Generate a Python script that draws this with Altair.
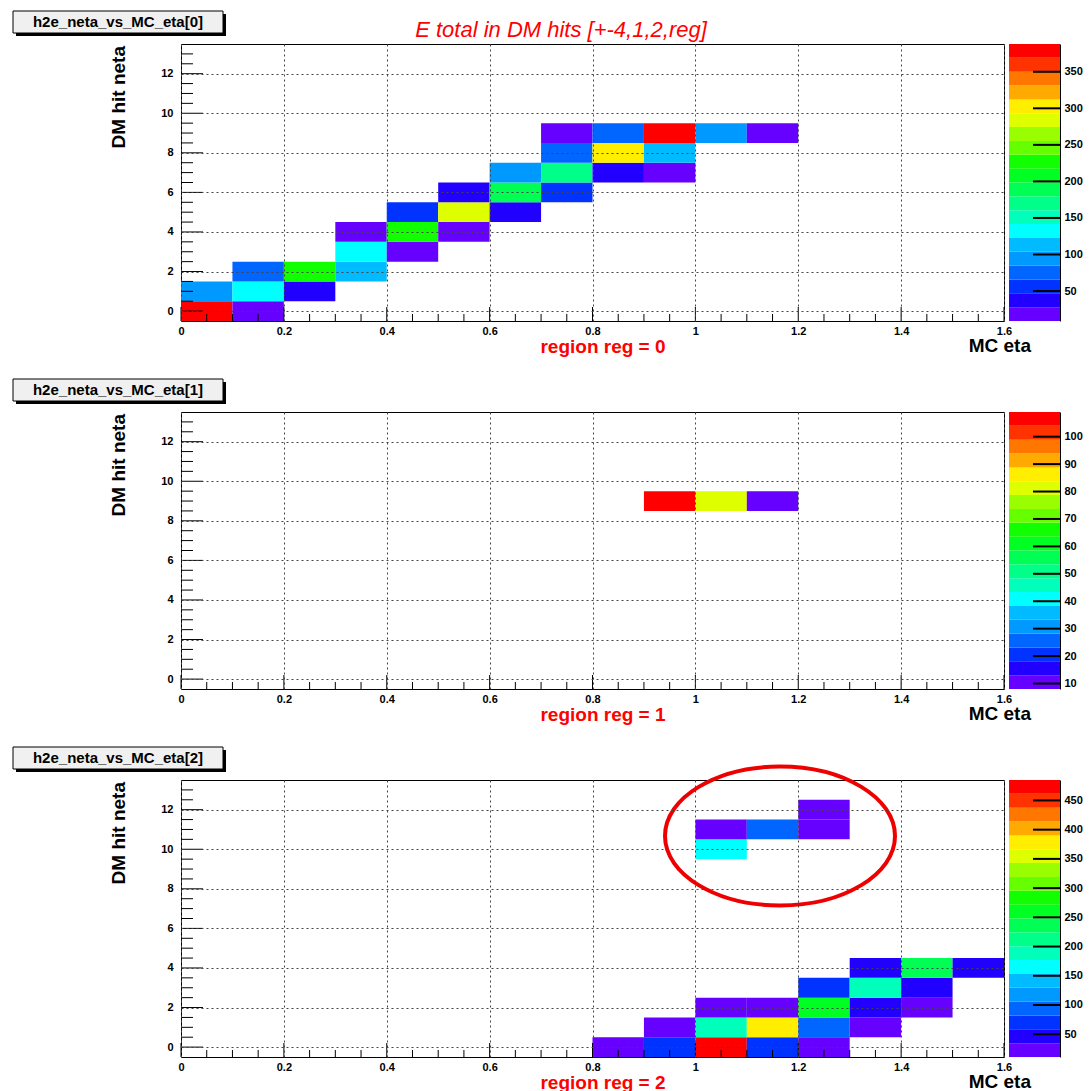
import altair as alt
import pandas as pd

FONT = "Liberation Sans"

# ROOT-like 20-level rainbow palette (bottom -> top of colour bar)
PALETTE = ["#6600ff", "#2200ff", "#0033ff", "#0066ff", "#0099ff", "#00bbff",
           "#00ffff", "#00ffbb", "#00ff88", "#00ff55", "#00ff22", "#11ff00",
           "#66ff00", "#99ff00", "#ddff00", "#ffee00", "#ffaa00", "#ff7700",
           "#ff3300", "#ff0000"]

X_MAJOR = [0, 0.2, 0.4, 0.6, 0.8, 1.0, 1.2, 1.4, 1.6]
X_MINOR = [0.05, 0.1, 0.15, 0.25, 0.3, 0.35, 0.45, 0.5, 0.55, 0.65, 0.7, 0.75,
           0.85, 0.9, 0.95, 1.05, 1.1, 1.15, 1.25, 1.3, 1.35, 1.45, 1.5, 1.55]
Y_MAJOR = [0, 2, 4, 6, 8, 10, 12]
Y_MINOR = [0.5, 1, 1.5, 2.5, 3, 3.5, 4.5, 5, 5.5, 6.5, 7, 7.5, 8.5, 9, 9.5,
           10.5, 11, 11.5, 12.5, 13]

# region reg = 0  (low edge of MC eta bin, DM hit neta, energy)
eta0 = [0.0, 0.1,
        0.0, 0.1, 0.2,
        0.1, 0.2, 0.3,
        0.3, 0.4,
        0.3, 0.4, 0.5,
        0.4, 0.5, 0.6,
        0.5, 0.6, 0.7,
        0.6, 0.7, 0.8, 0.9,
        0.7, 0.8, 0.9,
        0.7, 0.8, 0.9, 1.0, 1.1]
neta0 = [0, 0,
         1, 1, 1,
         2, 2, 2,
         3, 3,
         4, 4, 4,
         5, 5, 5,
         6, 6, 6,
         7, 7, 7, 7,
         8, 8, 8,
         9, 9, 9, 9, 9]
val0 = [381, 18,
        95, 132, 38,
        70, 225, 112,
        130, 18,
        18, 222, 18,
        56, 285, 38,
        38, 190, 56,
        95, 170, 38, 18,
        72, 304, 112,
        18, 66, 388, 95, 18]
z0 = (9, 388)
zticks0 = [50, 100, 150, 200, 250, 300, 350]

# region reg = 1
eta1 = [0.9, 1.0, 1.1]
neta1 = [9, 9, 9]
val1 = [109, 81, 8]
z1 = (8, 109)
zticks1 = [10, 20, 30, 40, 50, 60, 70, 80, 90, 100]

# region reg = 2
eta2 = [0.8, 0.9, 1.0, 1.1, 1.2,
        0.9, 1.0, 1.1, 1.2, 1.3,
        1.0, 1.1, 1.2, 1.3, 1.4,
        1.2, 1.3, 1.4,
        1.3, 1.4, 1.5,
        1.0,
        1.0, 1.1, 1.2,
        1.2]
neta2 = [0, 0, 0, 0, 0,
         1, 1, 1, 1, 1,
         2, 2, 2, 2, 2,
         3, 3, 3,
         4, 4, 4,
         10,
         11, 11, 11,
         12]
val2 = [20, 70, 485, 70, 22,
        22, 188, 378, 94, 22,
        22, 22, 265, 46, 22,
        70, 188, 46,
        46, 236, 46,
        165,
        22, 85, 22,
        22]
z2 = (11, 485)
zticks2 = [50, 100, 150, 200, 250, 300, 350, 400, 450]

W, H = 823, 277
XS = alt.Scale(domain=[0, 1.6], nice=False, zero=False)
YS = alt.Scale(domain=[-0.5, 13.5], nice=False, zero=False)
ONE = pd.DataFrame({"a": [0]})
ELLIPSE = "M -1 0 A 1 0.604 0 1 1 1 0 A 1 0.604 0 1 1 -1 0 Z"

XAX = alt.Axis(values=X_MAJOR, format="~g", title=None, grid=True, gridDash=[2, 3],
               gridColor="#444444", gridWidth=1, ticks=False, domain=False,
               labelFont=FONT, labelFontSize=11, labelFontWeight="bold",
               labelColor="black", labelPadding=4, labelFlush=False, zindex=1)
YAX = alt.Axis(values=Y_MAJOR, title=None, grid=True, gridDash=[2, 3],
               gridColor="#444444", gridWidth=1, ticks=False, domain=False,
               labelFont=FONT, labelFontSize=11, labelFontWeight="bold",
               labelColor="black", labelPadding=8, labelFlush=False, zindex=1)


def make_panel(i, eta, neta, val, z, zticks, main_title=None, ellipse=False):
    zmin, zmax = z
    df = pd.DataFrame({"eta": eta, "neta": neta, "val": val})
    cells = alt.Chart(df).transform_calculate(
        eta2="datum.eta + 0.1", lo="datum.neta - 0.5", hi="datum.neta + 0.5"
    ).mark_rect().encode(
        x=alt.X("eta:Q", scale=XS, axis=XAX),
        x2="eta2:Q",
        y=alt.Y("lo:Q", scale=YS, axis=YAX),
        y2="hi:Q",
        color=alt.Color("val:Q", scale=alt.Scale(
            type="quantize", domain=[zmin, zmax], range=PALETTE, nice=False),
            legend=None),
    )
    yt_major = alt.Chart(pd.DataFrame({"v": Y_MAJOR})).mark_rule(
        color="black", strokeWidth=1).encode(
        y=alt.Y("v:Q", scale=YS, axis=YAX), x=alt.value(0), x2=alt.value(22))
    yt_minor = alt.Chart(pd.DataFrame({"v": Y_MINOR})).mark_rule(
        color="black", strokeWidth=1).encode(
        y=alt.Y("v:Q", scale=YS, axis=YAX), x=alt.value(0), x2=alt.value(12))
    xt_major = alt.Chart(pd.DataFrame({"v": X_MAJOR})).mark_rule(
        color="black", strokeWidth=1).encode(
        x=alt.X("v:Q", scale=XS, axis=XAX), y=alt.value(H), y2=alt.value(H - 14))
    xt_minor = alt.Chart(pd.DataFrame({"v": X_MINOR})).mark_rule(
        color="black", strokeWidth=1).encode(
        x=alt.X("v:Q", scale=XS, axis=XAX), y=alt.value(H), y2=alt.value(H - 7))
    heat = alt.layer(cells, yt_major, yt_minor, xt_major, xt_minor)

    n = len(PALETTE)
    step = (zmax - zmin) / n
    cbdf = pd.DataFrame({
        "lo": [zmin + k * step for k in range(n)],
        "hi": [zmin + (k + 1) * step for k in range(n)],
        "c": PALETTE,
    })
    CBAX = alt.Axis(orient="right", offset=56, values=zticks, title=None,
                    ticks=False, grid=False, domain=True,
                    domainColor="black", domainWidth=1,
                    labelFont=FONT, labelFontSize=11,
                    labelFontWeight="bold", labelColor="black",
                    labelPadding=4, labelFlush=False, zindex=1)
    CBS = alt.Scale(domain=[zmin, zmax], nice=False, zero=False)
    cb_rect = alt.Chart(cbdf).mark_rect().encode(
        x=alt.value(W + 5), x2=alt.value(W + 56),
        y=alt.Y("lo:Q", scale=CBS, axis=CBAX),
        y2="hi:Q",
        color=alt.Color("c:N", scale=None),
    )
    cb_ticks = alt.Chart(pd.DataFrame({"v": zticks})).mark_rule(
        color="black", strokeWidth=2).encode(
        y=alt.Y("v:Q", scale=CBS, axis=CBAX), x=alt.value(W + 29), x2=alt.value(W + 56))
    cb = alt.layer(cb_rect, cb_ticks)

    shadow = alt.Chart(ONE).mark_rect(color="black").encode(
        x=alt.value(-165), x2=alt.value(45), y=alt.value(-30), y2=alt.value(-8))
    box = alt.Chart(ONE).mark_rect(fill="#f0f0f0", stroke="black", strokeWidth=1).encode(
        x=alt.value(-168), x2=alt.value(42), y=alt.value(-33), y2=alt.value(-11))
    box_text = alt.Chart(ONE).mark_text(
        text=f"h2e_neta_vs_MC_eta[{i}]", font=FONT, fontSize=15, fontWeight="bold",
        color="black", align="center", baseline="middle").encode(
        x=alt.value(-63), y=alt.value(-22))
    reg_text = alt.Chart(ONE).mark_text(
        text=f"region reg = {i}", font=FONT, fontSize=19, fontWeight="bold",
        color="#ff0000", align="center", baseline="middle").encode(
        x=alt.value(422), y=alt.value(H + 26))
    xtitle = alt.Chart(ONE).mark_text(
        text="MC eta", font=FONT, fontSize=19, fontWeight="bold",
        color="black", align="right", baseline="top").encode(
        x=alt.value(850), y=alt.value(H + 16))
    ytitle = alt.Chart(ONE).mark_text(
        text="DM hit neta", font=FONT, fontSize=19, fontWeight="bold",
        color="black", align="right", baseline="middle", angle=270).encode(
        x=alt.value(-62), y=alt.value(2))

    layers = [heat, cb, shadow, box, box_text, reg_text, xtitle, ytitle]
    if main_title:
        layers.append(alt.Chart(ONE).mark_text(
            text=main_title, font=FONT, fontSize=22, fontStyle="italic",
            color="#ff0000", align="center", baseline="middle").encode(
            x=alt.value(380), y=alt.value(-14)))
    if ellipse:
        layers.append(alt.Chart(ONE).mark_point(
            shape=ELLIPSE, size=52900, filled=False, stroke="#ee0000",
            strokeWidth=4, opacity=1).encode(x=alt.value(599), y=alt.value(56)))
    return alt.layer(*layers).resolve_scale(y="independent").properties(width=W, height=H)


p0 = make_panel(0, eta0, neta0, val0, z0, zticks0,
                main_title="E total in DM hits [+-4,1,2,reg]")
p1 = make_panel(1, eta1, neta1, val1, z1, zticks1)
p2 = make_panel(2, eta2, neta2, val2, z2, zticks2, ellipse=True)

chart = alt.vconcat(p0, p1, p2, spacing=91, bounds="flush").resolve_scale(
    color="independent"
).properties(
    padding={"left": 12, "top": 10, "right": 0, "bottom": 0},
    background="white",
).configure_view(stroke="black", strokeWidth=1)

chart.save("out.html", embed_options={"renderer": "svg", "actions": False})
